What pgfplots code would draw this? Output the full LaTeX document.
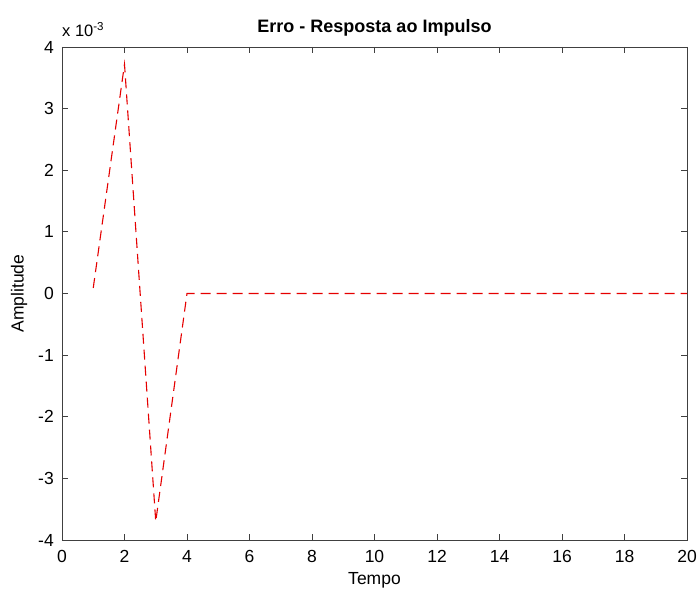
\documentclass[border=0pt]{standalone}
\usepackage{fontspec}
\setmainfont{Liberation Sans}
\usepackage{pgfplots}
\pgfplotsset{compat=1.18}
\usetikzlibrary{calc}
\begin{document}
\begin{tikzpicture}[x=1pt,y=1pt]
\begin{axis}[
  name=ax,
  scale only axis,
  width=625pt, height=493pt,
  xmin=0, xmax=20, ymin=-4e-3, ymax=4e-3,
  xtick={0,2,...,20},
  ytick={-4e-3,-3e-3,-2e-3,-1e-3,0,1e-3,2e-3,3e-3,4e-3},
  scaled y ticks=base 10:3,
  ytick scale label code/.code={x 10\textsuperscript{#1}},
  every y tick scale label/.style={at={(rel axis cs:0,1)}, anchor=base west, xshift=8pt, yshift=10pt, inner sep=0pt, font=\fontsize{16.5}{18}\selectfont},
  /pgf/number format/assume math mode=true,
  tick align=inside,
  major tick length=6pt,
  axis line style={line width=0.9pt, black!75},
  every tick/.style={black!75, line width=0.8pt},
  tick label style={font=\fontsize{17.5}{19}\selectfont, inner sep=0pt},
  xticklabel style={anchor=base, yshift=-23pt},
  yticklabel style={anchor=east, xshift=-8pt},
  title={\textbf{Erro - Resposta ao Impulso}},
  title style={font=\fontsize{18}{20}\selectfont, at={(axis description cs:0.5,1)}, anchor=base, yshift=8pt, inner sep=0pt},
  xlabel={Tempo},
  ylabel={Amplitude},
  label style={font=\fontsize{17.5}{19}\selectfont, inner sep=0pt},
  xlabel style={at={(axis description cs:0.5,0)}, anchor=base, yshift=-45pt},
  ylabel style={at={(axis description cs:-0.0688,0.5)}, anchor=center},
]
\addplot[red!90!black, line width=1.1pt, dash pattern=on 10pt off 6pt] coordinates {
(1,0.09e-3) (2,3.72e-3) (3,-3.70e-3) (4,0) (5,0) (6,0) (7,0) (8,0) (9,0) (10,0)
(11,0) (12,0) (13,0) (14,0) (15,0) (16,0) (17,0) (18,0) (19,0) (20,0)
};
\end{axis}
\pgfresetboundingbox
\path ($(ax.south west)+(-62pt,-51pt)$) rectangle ($(ax.north east)+(12pt,47pt)$);
\end{tikzpicture}
\end{document}
